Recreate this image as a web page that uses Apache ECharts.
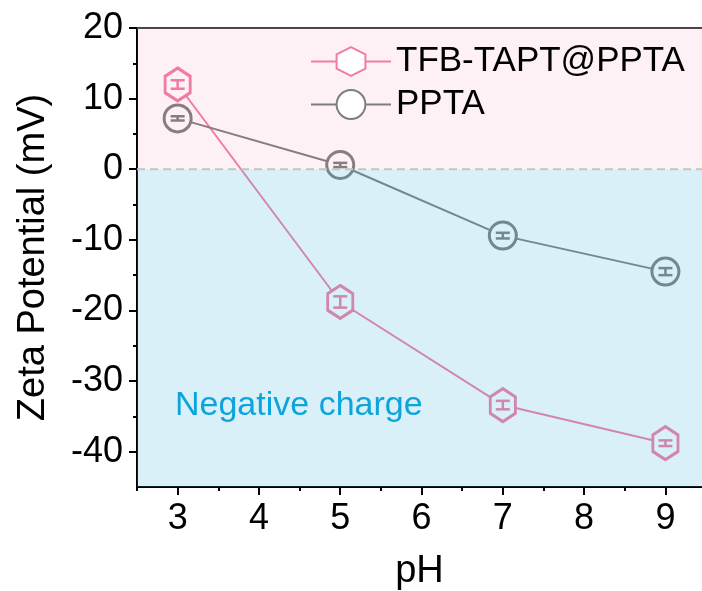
<!DOCTYPE html>
<html>
<head>
<meta charset="utf-8">
<script src="https://cdn.jsdelivr.net/npm/echarts@6/dist/echarts.min.js"></script>
<style>
  html, body { margin: 0; padding: 0; background: #fff; }
  #chart { width: 702px; height: 591px; }
</style>
</head>
<body>
<div id="chart"></div>
<script>
// data
var phValues = [3, 5, 7, 9];
var tfbZeta = [12.0, -18.8, -33.4, -38.8];
var tfbErr = [0.6, 0.8, 0.6, 0.4];
var pptaZeta = [7.2, 0.6, -9.4, -14.5];
var pptaErr = [0.3, 0.3, 0.4, 0.5];
var xTicks = [3, 4, 5, 6, 7, 8, 9];
var xMinorTicks = [2.5, 3.5, 4.5, 5.5, 6.5, 7.5, 8.5];
var yTicks = [-40, -30, -20, -10, 0, 10, 20];
var yMinorTicks = [-35, -25, -15, -5, 5, 15];
var bands = [[0, 20], [-45, 0]];

var xMin = 2.5, xMax = 9.45, yMin = -45, yMax = 20;
var FONT = '"Liberation Sans", Arial, sans-serif';
var pink = '#f27ca2', gray = '#7d7d7d';
var hexagon = 'path://M0,-10 L8.66,-5 L8.66,5 L0,10 L-8.66,5 L-8.66,-5 Z';

function pairs(xs, ys) { return xs.map(function (x, i) { return [x, ys[i]]; }); }

function errorSeries(vals, errs, color) {
  return {
    type: 'custom',
    z: 2.5,
    silent: true,
    data: phValues.map(function (x, i) { return [x, vals[i], errs[i]]; }),
    renderItem: function (params, api) {
      var x = api.value(0), y = api.value(1), e = api.value(2);
      var top = api.coord([x, y + e]), bot = api.coord([x, y - e]);
      var w = 7;
      var st = { stroke: color, lineWidth: 2.5 };
      return { type: 'group', children: [
        { type: 'line', shape: { x1: top[0], y1: top[1], x2: bot[0], y2: bot[1] }, style: st },
        { type: 'line', shape: { x1: top[0] - w, y1: top[1], x2: top[0] + w, y2: top[1] }, style: st },
        { type: 'line', shape: { x1: bot[0] - w, y1: bot[1], x2: bot[0] + w, y2: bot[1] }, style: st }
      ]};
    }
  };
}

var chart = echarts.init(document.getElementById('chart'));
chart.setOption({
  animation: false,
  textStyle: { fontFamily: FONT },
  grid: { left: 137, right: 0, top: 28, bottom: 104, containLabel: false, outerBoundsMode: 'none' },
  legend: {
    data: ['TFB-TAPT@PPTA', 'PPTA'],
    orient: 'vertical',
    left: 305, top: 39,
    itemWidth: 80, itemHeight: 36, itemGap: 8,
    textStyle: { fontSize: 35, color: '#000', fontFamily: FONT },
    z: 10
  },
  title: {
    text: 'Negative charge',
    left: 170, top: 384,
    textStyle: { fontSize: 34, fontWeight: 'normal', color: '#0ba4dc', fontFamily: FONT },
    z: 10
  },
  xAxis: [{
    type: 'value', min: xMin, max: xMax, position: 'bottom',
    name: 'pH', nameLocation: 'middle', nameGap: 66,
    nameTextStyle: { fontSize: 38, color: '#000' },
    axisLine: { show: true, onZero: false, lineStyle: { color: '#000', width: 2 } },
    axisTick: { show: true, length: 8, customValues: xTicks, lineStyle: { color: '#000', width: 2 } },
    axisLabel: { customValues: xTicks, fontSize: 36, color: '#000', margin: 14 },
    splitLine: { show: false }
  }, {
    type: 'value', min: xMin, max: xMax, position: 'bottom',
    axisLine: { show: false, onZero: false },
    axisTick: { show: true, length: 4, customValues: xMinorTicks, lineStyle: { color: '#000', width: 2 } },
    axisLabel: { show: false },
    splitLine: { show: false }
  }, {
    type: 'value', min: xMin, max: xMax, position: 'top',
    axisLine: { show: true, onZero: false, lineStyle: { color: '#444', width: 2 } },
    axisTick: { show: false }, axisLabel: { show: false }, splitLine: { show: false }
  }],
  yAxis: [{
    type: 'value', min: yMin, max: yMax, position: 'left',
    name: 'Zeta Potential (mV)', nameLocation: 'middle', nameGap: 84,
    nameTextStyle: { fontSize: 38, color: '#000' },
    axisLine: { show: true, onZero: false, lineStyle: { color: '#000', width: 2 } },
    axisTick: { show: true, length: 8, customValues: yTicks, lineStyle: { color: '#000', width: 2 } },
    axisLabel: { customValues: yTicks, fontSize: 36, color: '#000', margin: 14 },
    splitLine: { show: false }
  }, {
    type: 'value', min: yMin, max: yMax, position: 'left',
    axisLine: { show: false, onZero: false },
    axisTick: { show: true, length: 4, customValues: yMinorTicks, lineStyle: { color: '#000', width: 2 } },
    axisLabel: { show: false },
    splitLine: { show: false }
  }],
  series: [
    {
      name: 'TFB-TAPT@PPTA', type: 'line', z: 2,
      data: pairs(phValues, tfbZeta),
      symbol: hexagon, symbolSize: [29, 33], symbolKeepAspect: true,
      lineStyle: { color: pink, width: 2 },
      itemStyle: { color: '#fff', borderColor: pink, borderWidth: 3 },
      emphasis: { disabled: true }
    },
    {
      name: 'PPTA', type: 'line', z: 2,
      data: pairs(phValues, pptaZeta),
      symbol: 'circle', symbolSize: 27,
      lineStyle: { color: gray, width: 2 },
      itemStyle: { color: '#fff', borderColor: gray, borderWidth: 3 },
      emphasis: { disabled: true }
    },
    errorSeries(tfbZeta, tfbErr, pink),
    errorSeries(pptaZeta, pptaErr, gray),
    {
      // translucent background bands laid over the data
      type: 'custom', z: 3, silent: true,
      data: bands,
      renderItem: function (params, api) {
        var lo = api.value(0), hi = api.value(1);
        var p1 = api.coord([xMin, hi]), p2 = api.coord([xMax, lo]);
        var fill = lo >= 0 ? 'rgba(235,120,160,0.1)' : 'rgba(70,180,220,0.2)';
        var children = [{ type: 'rect', shape: { x: p1[0], y: p1[1], width: p2[0] - p1[0], height: p2[1] - p1[1] }, style: { fill: fill } }];
        if (lo >= 0) {
          var z0 = api.coord([xMin, 0]), z1 = api.coord([xMax, 0]);
          children.push({ type: 'line', z2: 10, shape: { x1: z0[0], y1: z0[1], x2: z1[0], y2: z1[1] },
            style: { stroke: '#c4c4c4', lineWidth: 2, lineDash: [8, 5] } });
        }
        return { type: 'group', children: children };
      }
    }
  ]
});
</script>
</body>
</html>
